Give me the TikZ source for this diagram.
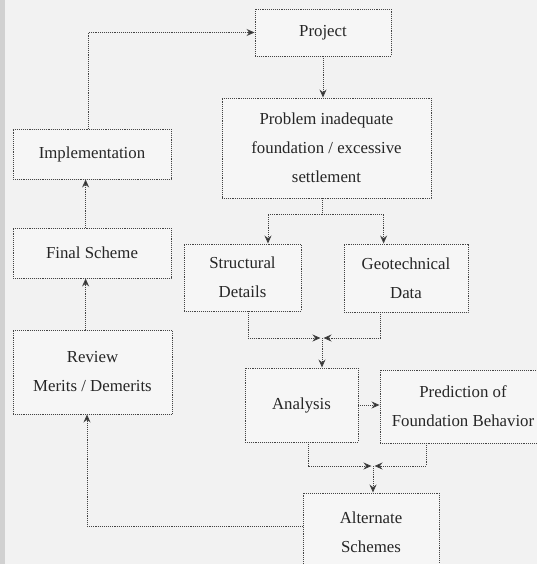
\documentclass[tikz,border=0pt]{standalone}
\usepackage{fontspec}
\setmainfont{Liberation Serif}
\usetikzlibrary{arrows.meta}
\definecolor{bg}{HTML}{F2F2F2}
\definecolor{boxfill}{HTML}{F6F6F6}
\definecolor{ln}{HTML}{444444}
\begin{document}
\begin{tikzpicture}[x=1pt,y=-1pt,
  every node/.style={font=\fontsize{16.8}{29}\selectfont, text=black!85, align=center, inner sep=0pt},
  blk/.style={draw=ln, densely dotted, line width=0.9pt, fill=boxfill},
  conn/.style={draw=ln, densely dotted, line width=0.9pt},
  arr/.style={conn, -{Stealth[length=8pt,width=7pt,fill=black!85]}}]
\useasboundingbox (0,0) rectangle (537,564);
\fill[bg] (0,0) rectangle (537,564);
\fill[black!18] (0,0) rectangle (5,564);
\clip (0,0) rectangle (537,564);

\node[blk, minimum width=136, minimum height=47] (project) at (323,32.5) {Project};
\node[blk, minimum width=209, minimum height=100] (problem) at (326.5,148) {Problem inadequate\\foundation / excessive\\settlement};
\node[blk, minimum width=158, minimum height=50] (impl) at (92,154) {Implementation};
\node[blk, minimum width=158, minimum height=50] (final) at (92,253) {Final Scheme};
\node[blk, minimum width=159, minimum height=84] (review) at (92.5,372) {Review\\Merits / Demerits};
\node[blk, minimum width=117, minimum height=67] (struct) at (242.5,277.5) {Structural\\Details};
\node[blk, minimum width=124, minimum height=68] (geo) at (406,278) {Geotechnical\\Data};
\node[blk, minimum width=113, minimum height=74] (analysis) at (301.5,405) {Analysis};
\node[blk, minimum width=166, minimum height=73] (pred) at (463,406.5) {Prediction of\\Foundation Behavior};
\node[blk, minimum width=136, minimum height=78] (alt) at (371,532) {Alternate\\Schemes};

% Project -> Problem
\draw[arr] (project.south) -- (project.south |- problem.north);
% Implementation -> Project loop
\coordinate (c1) at (88,32.5);
\draw[arr] (impl.north -| c1) -- (c1) -- (project.west);
% Final -> Implementation, Review -> Final
\coordinate (c2) at (85.6,0);
\draw[arr] (final.north -| c2) -- (impl.south -| c2);
\draw[arr] (review.north -| c2) -- (final.south -| c2);
% Problem -> Structural / Geotechnical
\coordinate (s1) at (322,214);
\coordinate (sl) at (268,214);
\coordinate (sr) at (383.6,214);
\draw[conn] (problem.south -| s1) -- (s1);
\draw[arr] (s1) -- (sl) -- (sl |- struct.north);
\draw[arr] (s1) -- (sr) -- (sr |- geo.north);
% Structural / Geotechnical -> Analysis
\coordinate (j1) at (322,338);
\coordinate (j1a) at (248,338);
\coordinate (j1b) at (380,338);
\coordinate (j1l) at (320.5,338);
\coordinate (j1r) at (323.5,338);
\draw[arr] (struct.south -| j1a) -- (j1a) -- (j1l);
\draw[arr] (geo.south -| j1b) -- (j1b) -- (j1r);
\draw[arr] (j1) -- (j1 |- analysis.north);
% Analysis -> Prediction
\draw[arr] (analysis.east) -- (analysis.east -| pred.west);
% Analysis / Prediction -> Alternate
\coordinate (j2) at (373,466);
\coordinate (j2a) at (308,466);
\coordinate (j2b) at (426,466);
\coordinate (j2l) at (371.5,466);
\coordinate (j2r) at (374.5,466);
\draw[arr] (analysis.south -| j2a) -- (j2a) -- (j2l);
\draw[arr] (pred.south -| j2b) -- (j2b) -- (j2r);
\draw[arr] (j2) -- (j2 |- alt.north);
% Alternate -> Review
\coordinate (c3) at (87,526);
\draw[arr] (alt.west |- c3) -- (c3) -- (c3 |- review.south);
\end{tikzpicture}
\end{document}
